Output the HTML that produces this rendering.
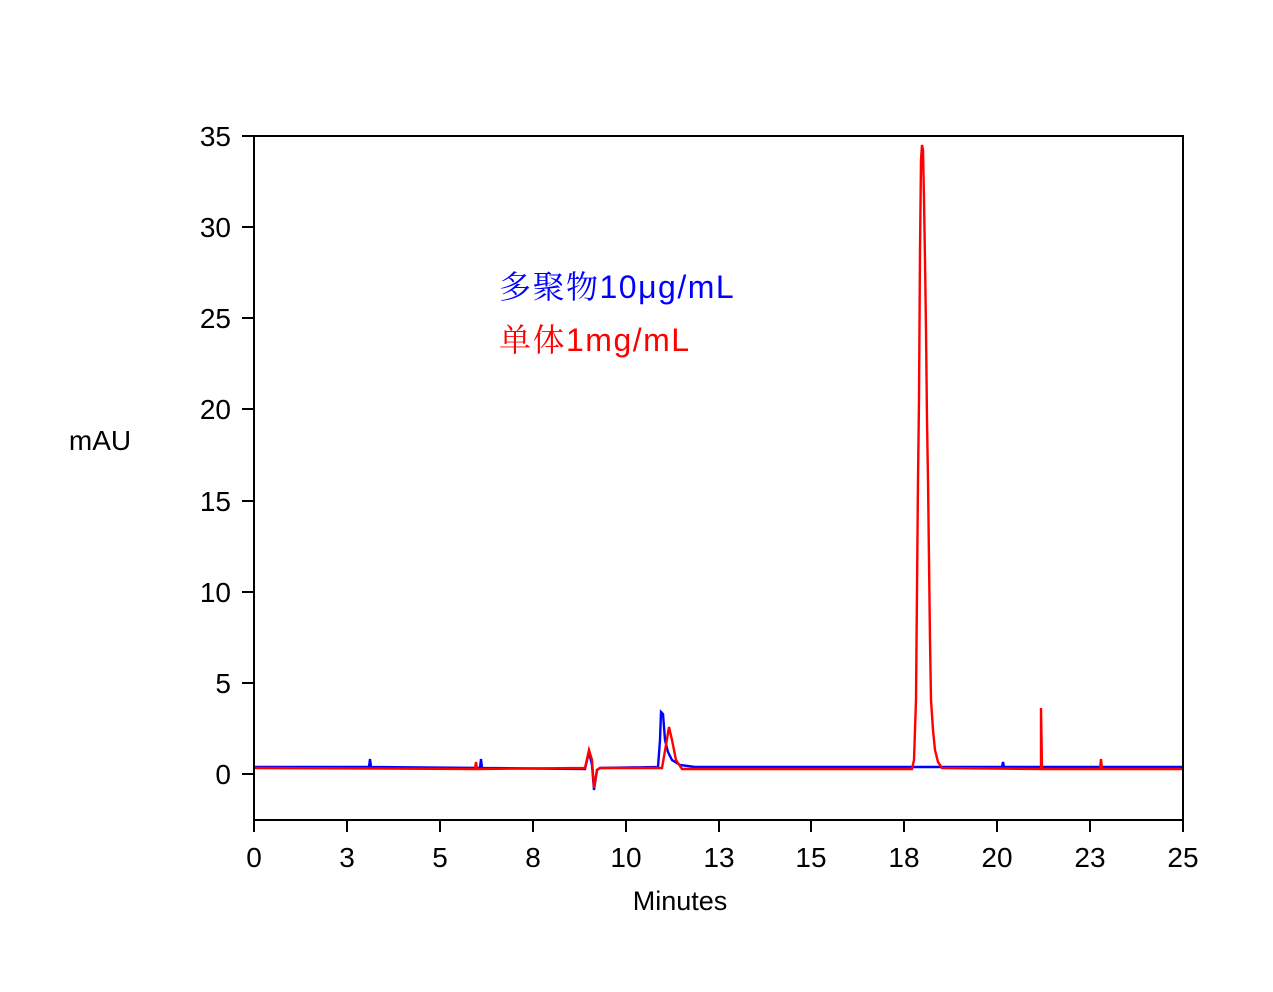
<!DOCTYPE html>
<html><head><meta charset="utf-8"><style>
html,body{margin:0;padding:0;background:#fff;}
svg text{font-family:"Liberation Sans",Arial,sans-serif;}
</style></head><body>
<svg width="1273" height="987" viewBox="0 0 1273 987" xmlns="http://www.w3.org/2000/svg">
<rect width="1273" height="987" fill="#fff"/>
<path fill="none" stroke="#0000ff" stroke-width="2.4" d="M254,767 L369,767 L370,759 L371,767 L480,768 L481,759 L482,768 L585,769 L589,752 L592,765 L594,790 L597,770 L600,768 L658,767 L660,740 L661,712 L663,714 L665,740 L668,752 L672,760 L680,765 L695,767 L1002,767 L1003,762 L1004,767 L1183,767"/>
<path fill="none" stroke="#ff0000" stroke-width="2.4" d="M254,768 L475,769 L476,762 L477,769 L585,768 L589,750 L592,760 L594,788 L597,770 L600,768 L662,768 L666,745 L669,727 L672,740 L676,760 L682,769 L912,769 L914,760 L916,700 L918,480 L919,400 L920,250 L921,160 L922,145 L923,150 L924,200 L925,260 L926,330 L927,420 L928,480 L929,560 L930,640 L931,700 L933,730 L935,750 L938,762 L942,768 L1041,769 L1041,708 L1042,769 L1100,769 L1101,759 L1102,769 L1183,769"/>
<rect x="254" y="136" width="929" height="684" fill="none" stroke="#000" stroke-width="2"/>
<g stroke="#000" stroke-width="2">
<line x1="242" y1="136" x2="254" y2="136"/><line x1="242" y1="227" x2="254" y2="227"/><line x1="242" y1="318" x2="254" y2="318"/><line x1="242" y1="409" x2="254" y2="409"/><line x1="242" y1="501" x2="254" y2="501"/><line x1="242" y1="592" x2="254" y2="592"/><line x1="242" y1="683" x2="254" y2="683"/><line x1="242" y1="774" x2="254" y2="774"/>
<line x1="254" y1="820" x2="254" y2="832"/><line x1="347" y1="820" x2="347" y2="832"/><line x1="440" y1="820" x2="440" y2="832"/><line x1="533" y1="820" x2="533" y2="832"/><line x1="626" y1="820" x2="626" y2="832"/><line x1="719" y1="820" x2="719" y2="832"/><line x1="811" y1="820" x2="811" y2="832"/><line x1="904" y1="820" x2="904" y2="832"/><line x1="997" y1="820" x2="997" y2="832"/><line x1="1090" y1="820" x2="1090" y2="832"/><line x1="1183" y1="820" x2="1183" y2="832"/>
</g>
<g font-size="28" text-anchor="end" fill="#000">
<text x="231" y="146">35</text><text x="231" y="237">30</text><text x="231" y="328">25</text><text x="231" y="419">20</text><text x="231" y="511">15</text><text x="231" y="602">10</text><text x="231" y="693">5</text><text x="231" y="784">0</text>
</g>
<g font-size="28" text-anchor="middle" fill="#000">
<text x="254" y="867">0</text><text x="347" y="867">3</text><text x="440" y="867">5</text><text x="533" y="867">8</text><text x="626" y="867">10</text><text x="719" y="867">13</text><text x="811" y="867">15</text><text x="904" y="867">18</text><text x="997" y="867">20</text><text x="1090" y="867">23</text><text x="1183" y="867">25</text>
</g>
<text x="680" y="910" font-size="27" text-anchor="middle">Minutes</text>
<text x="100" y="450" font-size="28" text-anchor="middle">mAU</text>
<text x="499" y="298" font-size="32" letter-spacing="1.5" fill="#0000ff" style='font-family:"Liberation Sans","Noto Serif CJK SC",serif'>多聚物10μg/mL</text>
<text x="499" y="351" font-size="32" letter-spacing="1.5" fill="#ff0000" style='font-family:"Liberation Sans","Noto Serif CJK SC",serif'>单体1mg/mL</text>
</svg>
</body></html>
